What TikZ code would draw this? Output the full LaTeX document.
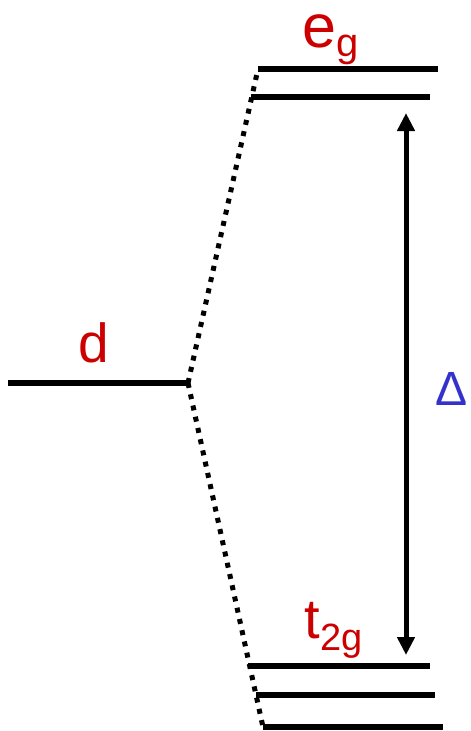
\documentclass[tikz,border=0pt]{standalone}
\usepackage{fontspec}
\setmainfont{Liberation Sans}
\usetikzlibrary{arrows.meta}
\definecolor{labred}{RGB}{204,0,0}
\definecolor{labblue}{RGB}{51,51,204}
\newcommand{\fsz}[1]{\fontsize{#1}{#1}\selectfont}

\begin{document}
\begin{tikzpicture}[x=1pt,y=-1pt,
  level/.style={line width=5.5pt},
  link/.style={line width=5pt,dash pattern=on 5pt off 6.5pt},
  gap/.style={line width=5pt,{Triangle[length=18pt,width=17pt]}-{Triangle[length=18pt,width=17pt]}},
  lab/.style={text=labred,inner sep=0pt,anchor=base,text height=34pt}]
  \useasboundingbox (0,0) rectangle (471,731);
  % level end points
  \coordinate (d-l) at (8,383);    \coordinate (d-r) at (188,383);
  \coordinate (eg1-l) at (258,69); \coordinate (eg1-r) at (438,69);
  \coordinate (eg2-l) at (251,97); \coordinate (eg2-r) at (430,97);
  \coordinate (t1-l) at (248,666); \coordinate (t1-r) at (430,666);
  \coordinate (t2-l) at (256,695); \coordinate (t2-r) at (435,695);
  \coordinate (t3-l) at (263,727); \coordinate (t3-r) at (443,727);
  \coordinate (gap-top) at (406,113);
  \coordinate (gap-bot) at (406,655);
  % levels
  \foreach \lv in {d,eg1,eg2,t1,t2,t3}
    \draw[level] (\lv-l) -- (\lv-r);
  % splitting
  \draw[link] (d-r) -- (eg1-l);
  \draw[link] (d-r) -- (t3-l);
  \draw[gap] (gap-top) -- (gap-bot);
  % labels
  \node[lab,font=\fsz{55}] (dlab) at (93.5,362) {d};
  \node[lab,font=\fsz{61}] (eglab) at (330.5,47) {e{\fsz{40}\raisebox{-9pt}{g}}};
  \node[lab,font=\fsz{56}] (tlab) at (333.5,638) {t{\fsz{38}\raisebox{-12pt}{2g}}};
  \node[text=labblue,inner sep=0pt,font=\fsz{48}] (delta) at (452,389) {Δ};
\end{tikzpicture}
\end{document}
